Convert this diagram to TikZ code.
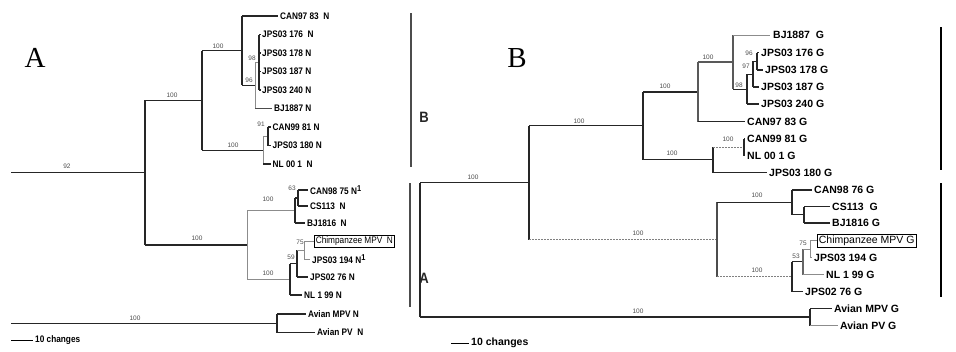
\documentclass[tikz,border=0pt]{standalone}
\usepackage{fontspec}
\setmainfont{Liberation Sans}
\newfontfamily\lfont[FakeStretch=0.87]{Liberation Sans}
\newfontfamily\rfont{Liberation Sans}
\newfontfamily\bigserif{Liberation Serif}
\newcommand{\supone}{\raisebox{3.5pt}{\fontsize{8.5}{8.5}\selectfont 1}}
\begin{document}
\begin{tikzpicture}[x=1pt,y=-1pt,
  br/.style={line width=1.1pt,black!85},
  gb/.style={line width=0.8pt,black!45},
  db/.style={line width=0.9pt,black!50,dash pattern=on 2pt off 1pt},
  lleaf/.style={anchor=west,inner sep=0pt,font=\lfont\bfseries\fontsize{9.5}{10}\selectfont},
  rleaf/.style={anchor=west,inner sep=0pt,font=\rfont\bfseries\fontsize{10.5}{11}\selectfont},
  lbox/.style={anchor=west,draw=black,line width=0.6pt,inner sep=1.5pt,font=\lfont\fontsize{9.5}{10}\selectfont},
  rbox/.style={anchor=west,draw=black,line width=0.7pt,inner sep=1.5pt,font=\rfont\fontsize{10.5}{11}\selectfont},
  boot/.style={inner sep=0pt,font=\rfont\fontsize{6.5}{6.5}\selectfont,text=black!70},
  clade/.style={inner sep=0pt,font=\lfont\bfseries\fontsize{15}{15}\selectfont,text=black!85},
  panel/.style={inner sep=0pt,font=\bigserif\fontsize{29}{29}\selectfont},
  bracketL/.style={line width=1.5pt,black!70},
  bracketR/.style={line width=1.8pt,black},
]
\useasboundingbox (0,0) rectangle (956,351);

% ================= LEFT TREE =================
\node[panel] (panA) at (35,58) {A};
\coordinate (Lr0) at (11,172.6);
\coordinate (L145) at (145,172.6);
\coordinate (L202) at (202,100.4);
\coordinate (L242) at (242,50.7);
\coordinate (L255) at (255,85.4);
\coordinate (L259) at (259,62.25);
\coordinate (L263) at (263,150.1);
\coordinate (L268) at (268,136.25);
\coordinate (L247) at (247,244.9);
\coordinate (L295) at (295,210.5);
\coordinate (L298) at (298,198);
\coordinate (L290) at (290,279.25);
\coordinate (L297) at (297,263.5);
\coordinate (L304) at (304,250);
\coordinate (L277) at (277,323.25);
\coordinate (Lo0) at (11,323.25);
% tips
\coordinate (tCAN97) at (278,16);
\coordinate (tJ176) at (261,34.5);
\coordinate (tJ178) at (261,53);
\coordinate (tJ187) at (261,71.5);
\coordinate (tJ240) at (261,90);
\coordinate (tBJ1887) at (272,108.5);
\coordinate (tCAN99) at (271,127);
\coordinate (tJ180) at (271,145.5);
\coordinate (tNL001) at (271,164);
\coordinate (tCAN98) at (308,190);
\coordinate (tCS113) at (308,206);
\coordinate (tBJ1816) at (305,223);
\coordinate (tChimp) at (314,241);
\coordinate (tJ194) at (310,259);
\coordinate (tJ0276) at (308,277);
\coordinate (tNL199) at (302,295);
\coordinate (tAMPV) at (306,314);
\coordinate (tAPV) at (315,332.5);

% branches
\draw[br] (Lr0) -- (L145);
\draw[br] (Lo0) -- (L277);
\draw[br] (L145|-L202) -- (L145|-L247);
\draw[br] (L145|-L202) -- (L202);
\draw[br,line width=1.4pt] (L145|-L247) -- (L247);
\draw[br] (L202|-L242) -- (L202|-L263);
\draw[br] (L202|-L242) -- (L242);
\draw[br] (L202|-L263) -- (L263);
\draw[br] (L242|-tCAN97) -- (L242|-L255);
\draw[br] (L242|-tCAN97) -- (tCAN97);
\draw[br] (L242|-L255) -- (L255);
\draw[gb] (L255|-L259) -- (L255|-tBJ1887);
\draw[gb] (L255|-L259) -- (L259);
\draw[br,black!70] (L255|-tBJ1887) -- (tBJ1887);
\draw[br,line width=1.4pt] (L259|-tJ176) -- (L259|-tJ240);
\foreach \t in {tJ176,tJ178,tJ187,tJ240} \draw[br] (L259|-\t) -- (\t);
\draw[gb] (L263|-L268) -- (L263|-tNL001);
\draw[gb] (L263|-L268) -- (L268);
\draw[br] (L263|-tNL001) -- (tNL001);
\draw[br] (L268|-tCAN99) -- (L268|-tJ180);
\draw[br] (L268|-tCAN99) -- (tCAN99);
\draw[br] (L268|-tJ180) -- (tJ180);
\draw[gb] (L247|-L295) -- (L247|-L290);
\draw[gb] (L247|-L295) -- (L295);
\draw[gb] (L247|-L290) -- (L290);
\draw[br] (L295|-L298) -- (L295|-tBJ1816);
\draw[br] (L295|-L298) -- (L298);
\draw[br] (L295|-tBJ1816) -- (tBJ1816);
\draw[br] (L298|-tCAN98) -- (L298|-tCS113);
\draw[br] (L298|-tCAN98) -- (tCAN98);
\draw[br] (L298|-tCS113) -- (tCS113);
\draw[br] (L290|-L297) -- (L290|-tNL199);
\draw[br] (L290|-L297) -- (L297);
\draw[br] (L290|-tNL199) -- (tNL199);
\draw[br] (L297|-L304) -- (L297|-tJ0276);
\draw[gb] (L297|-L304) -- (L304);
\draw[br] (L297|-tJ0276) -- (tJ0276);
\draw[gb] (L304|-tChimp) -- (L304|-tJ194);
\draw[gb] (L304|-tChimp) -- (tChimp);
\draw[gb] (L304|-tJ194) -- (tJ194);
\draw[br] (L277|-tAMPV) -- (L277|-tAPV);
\draw[br] (L277|-tAMPV) -- (tAMPV);
\draw[br] (L277|-tAPV) -- (tAPV);

% leaf labels
\node[lleaf] (nCAN97) at ([xshift=2pt]tCAN97) {CAN97 83~ N};
\node[lleaf] (nJ176) at ([xshift=1pt]tJ176) {JPS03 176~ N};
\node[lleaf] (nJ178) at ([xshift=1pt]tJ178) {JPS03 178 N};
\node[lleaf] (nJ187) at ([xshift=1pt]tJ187) {JPS03 187 N};
\node[lleaf] (nJ240) at ([xshift=1pt]tJ240) {JPS03 240 N};
\node[lleaf] (nBJ1887) at ([xshift=2pt]tBJ1887) {BJ1887 N};
\node[lleaf] (nCAN99) at ([xshift=1.5pt]tCAN99) {CAN99 81 N};
\node[lleaf] (nJ180) at ([xshift=1.5pt]tJ180) {JPS03 180 N};
\node[lleaf] (nNL001) at ([xshift=1.5pt]tNL001) {NL 00 1~ N};
\node[lleaf] (nCAN98) at ([xshift=2pt]tCAN98) {CAN98 75 N\supone};
\node[lleaf] (nCS113) at ([xshift=2pt]tCS113) {CS113~ N};
\node[lleaf] (nBJ1816) at ([xshift=2pt]tBJ1816) {BJ1816~ N};
\node[lbox] (nChimp) at (tChimp) {Chimpanzee MPV~ N};
\node[lleaf] (nJ194) at ([xshift=2pt]tJ194) {JPS03 194 N\supone};
\node[lleaf] (nJ0276) at ([xshift=2pt]tJ0276) {JPS02 76 N};
\node[lleaf] (nNL199) at ([xshift=2pt]tNL199) {NL 1 99 N};
\node[lleaf] (nAMPV) at ([xshift=2pt]tAMPV) {Avian MPV N};
\node[lleaf] (nAPV) at ([xshift=2pt]tAPV) {Avian PV~ N};

% bootstrap values
\node[boot] (b1) at (67,166) {92};
\node[boot] (b2) at (172,95) {100};
\node[boot] (b3) at (218,46) {100};
\node[boot] (b4) at (252,58) {98};
\node[boot] (b5) at (249,80) {96};
\node[boot] (b6) at (233,145) {100};
\node[boot] (b7) at (261,124) {91};
\node[boot] (b8) at (197,238) {100};
\node[boot] (b9) at (268,199) {100};
\node[boot] (b10) at (292,188) {63};
\node[boot] (b11) at (300,242) {75};
\node[boot] (b12) at (291,257) {59};
\node[boot] (b13) at (268,273) {100};
\node[boot] (b14) at (135,318) {100};

% clade brackets
\coordinate (kB1) at (411,13); \coordinate (kB2) at (411,167);
\coordinate (kA1) at (410,183); \coordinate (kA2) at (410,307);
\draw[bracketL] (kB1) -- (kB2);
\draw[bracketL] (kA1) -- (kA2);
\node[clade] (cB) at (424,117) {B};
\node[clade] (cA) at (424,278) {A};

% scale bar
\coordinate (sL1) at (11,340); \coordinate (sL2) at (33,340);
\draw[line width=0.8pt] (sL1) -- (sL2);
\node[lleaf] (sLt) at (35,340) {10 changes};

% ================= RIGHT TREE =================
\node[panel] (panB) at (517,58) {B};
\coordinate (R420) at (420,182.6);
\coordinate (R529) at (529,182.6);
\coordinate (R643) at (643,125.8);
\coordinate (R698) at (698,91.8);
\coordinate (R733) at (733,62);
\coordinate (R747) at (747,89.1);
\coordinate (R753) at (753,74.2);
\coordinate (R757) at (757,61.4);
\coordinate (R713) at (713,159.8);
\coordinate (R744) at (744,147);
\coordinate (R717) at (717,239.5);
\coordinate (R792a) at (792,202.4);
\coordinate (R804) at (804,214.8);
\coordinate (R792b) at (792,276.6);
\coordinate (R803) at (803,261.8);
\coordinate (R810) at (810,249);
\coordinate (R810o) at (810,317);
% tips
\coordinate (uBJ1887) at (770,35);
\coordinate (uJ176) at (759,52.7);
\coordinate (uJ178) at (763,70);
\coordinate (uJ187) at (759,87);
\coordinate (uJ240) at (759,104);
\coordinate (uCAN97) at (745,121.5);
\coordinate (uCAN99) at (745,138.5);
\coordinate (uNL001) at (745,155.5);
\coordinate (uJ180) at (767,172.5);
\coordinate (uCAN98) at (812,190);
\coordinate (uCS113) at (830,206.5);
\coordinate (uBJ1816) at (830,223);
\coordinate (uChimp) at (817,240.5);
\coordinate (uJ194) at (812,257.5);
\coordinate (uNL199) at (824,274.5);
\coordinate (uJ0276) at (803,291.5);
\coordinate (uAMPV) at (832,308.5);
\coordinate (uAPV) at (838,325.5);

\draw[br] (R420) -- (R420|-R810o);
\draw[br] (R420) -- (R529);
\draw[br] (R420|-R810o) -- (R810o);
\draw[br] (R529|-R643) -- (R529|-R717);
\draw[br] (R529|-R643) -- (R643);
\draw[db] (R529|-R717) -- (R717);
\draw[br] (R643|-R698) -- (R643|-R713);
\draw[br,line width=1.4pt] (R643|-R698) -- (R698);
\draw[br] (R643|-R713) -- (R713);
\draw[br,black!65] (R698|-R733) -- (R698|-uCAN97);
\draw[br,black!65] (R698|-R733) -- (R733);
\draw[br] (R698|-uCAN97) -- (uCAN97);
\draw[br,black!65] (R733|-uBJ1887) -- (R733|-R747);
\draw[gb] (R733|-uBJ1887) -- (uBJ1887);
\draw[br] (R733|-R747) -- (R747);
\draw[br] (R747|-R753) -- (R747|-uJ240);
\draw[br] (R747|-R753) -- (R753);
\draw[br] (R747|-uJ240) -- (uJ240);
\draw[br] (R753|-R757) -- (R753|-uJ187);
\draw[br] (R753|-R757) -- (R757);
\draw[br] (R753|-uJ187) -- (uJ187);
\draw[br] (R757|-uJ176) -- (R757|-uJ178);
\draw[br] (R757|-uJ176) -- (uJ176);
\draw[br] (R757|-uJ178) -- (uJ178);
\draw[br] (R713|-R744) -- (R713|-uJ180);
\draw[db] (R713|-R744) -- (R744);
\draw[br] (R713|-uJ180) -- (uJ180);
\draw[br] (R744|-uCAN99) -- (R744|-uNL001);
\draw[br] (R744|-uCAN99) -- (uCAN99);
\draw[br] (R744|-uNL001) -- (uNL001);
\draw[br,black!70] (R717|-R792a) -- (R717|-R792b);
\draw[br] (R717|-R792a) -- (R792a);
\draw[db] (R717|-R792b) -- (R792b);
\draw[br] (R792a|-uCAN98) -- (R792a|-R804);
\draw[br] (R792a|-uCAN98) -- (uCAN98);
\draw[br] (R792a|-R804) -- (R804);
\draw[br] (R804|-uCS113) -- (R804|-uBJ1816);
\draw[br] (R804|-uCS113) -- (uCS113);
\draw[br] (R804|-uBJ1816) -- (uBJ1816);
\draw[br] (R792b|-R803) -- (R792b|-uJ0276);
\draw[br] (R792b|-R803) -- (R803);
\draw[br] (R792b|-uJ0276) -- (uJ0276);
\draw[br,black!60] (R803|-R810) -- (R803|-uNL199);
\draw[gb] (R803|-R810) -- (R810);
\draw[gb] (R803|-uNL199) -- (uNL199);
\draw[gb] (R810|-uChimp) -- (R810|-uJ194);
\draw[gb] (R810|-uChimp) -- (uChimp);
\draw[gb] (R810|-uJ194) -- (uJ194);
\draw[br] (R810o|-uAMPV) -- (R810o|-uAPV);
\draw[br] (R810o|-uAMPV) -- (uAMPV);
\draw[gb] (R810o|-uAPV) -- (uAPV);

% leaf labels
\node[rleaf] (mBJ1887) at ([xshift=3pt]uBJ1887) {BJ1887~ G};
\node[rleaf] (mJ176) at ([xshift=2pt]uJ176) {JPS03 176 G};
\node[rleaf] (mJ178) at ([xshift=2pt]uJ178) {JPS03 178 G};
\node[rleaf] (mJ187) at ([xshift=2pt]uJ187) {JPS03 187 G};
\node[rleaf] (mJ240) at ([xshift=2pt]uJ240) {JPS03 240 G};
\node[rleaf] (mCAN97) at ([xshift=2pt]uCAN97) {CAN97 83 G};
\node[rleaf] (mCAN99) at ([xshift=2pt]uCAN99) {CAN99 81 G};
\node[rleaf] (mNL001) at ([xshift=2pt]uNL001) {NL 00 1 G};
\node[rleaf] (mJ180) at ([xshift=2pt]uJ180) {JPS03 180 G};
\node[rleaf] (mCAN98) at ([xshift=2pt]uCAN98) {CAN98 76 G};
\node[rleaf] (mCS113) at ([xshift=2pt]uCS113) {CS113~ G};
\node[rleaf] (mBJ1816) at ([xshift=2pt]uBJ1816) {BJ1816 G};
\node[rbox] (mChimp) at (uChimp) {Chimpanzee MPV G};
\node[rleaf] (mJ194) at ([xshift=2pt]uJ194) {JPS03 194 G};
\node[rleaf] (mNL199) at ([xshift=2pt]uNL199) {NL 1 99 G};
\node[rleaf] (mJ0276) at ([xshift=2pt]uJ0276) {JPS02 76 G};
\node[rleaf] (mAMPV) at ([xshift=2pt]uAMPV) {Avian MPV G};
\node[rleaf] (mAPV) at ([xshift=2pt]uAPV) {Avian PV G};

% bootstrap values
\node[boot] (c1) at (473,177) {100};
\node[boot] (c2) at (579,121) {100};
\node[boot] (c3) at (665,86) {100};
\node[boot] (c4) at (708,57) {100};
\node[boot] (c5) at (749,53) {96};
\node[boot] (c6) at (746,66) {97};
\node[boot] (c7) at (739,85) {98};
\node[boot] (c8) at (672,153) {100};
\node[boot] (c9) at (728,139) {100};
\node[boot] (c10) at (638,233) {100};
\node[boot] (c11) at (757,195) {100};
\node[boot] (c12) at (757,270) {100};
\node[boot] (c13) at (803,243) {75};
\node[boot] (c14) at (796,256) {53};
\node[boot] (c15) at (638,311) {100};

% clade brackets
\coordinate (kR1) at (941,27); \coordinate (kR2) at (941,170);
\coordinate (kR3) at (941,183); \coordinate (kR4) at (941,297);
\draw[bracketR] (kR1) -- (kR2);
\draw[bracketR] (kR3) -- (kR4);

% scale bar
\coordinate (sR1) at (451,343); \coordinate (sR2) at (469,343);
\draw[line width=0.8pt] (sR1) -- (sR2);
\node[rleaf] (sRt) at (471,343) {10 changes};
\end{tikzpicture}
\end{document}
